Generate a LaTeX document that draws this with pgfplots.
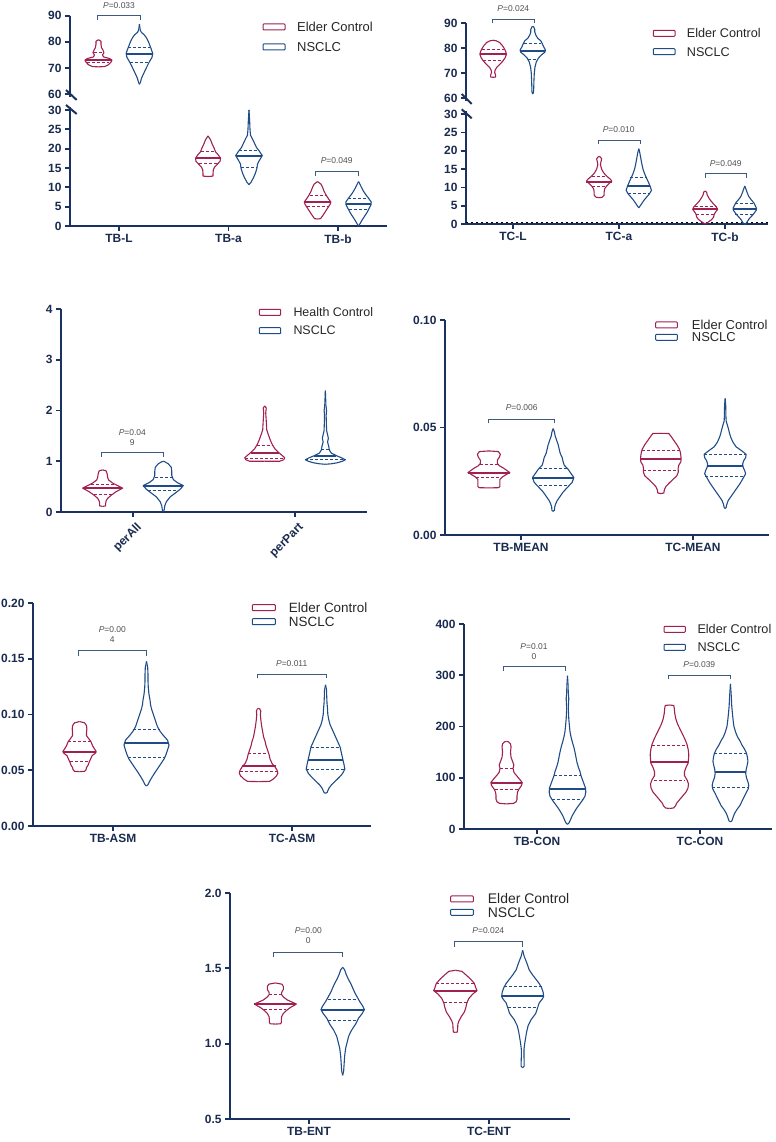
\documentclass[border=0pt]{standalone}
\usepackage{pgfplots}
\pgfplotsset{compat=1.18}
\usepackage{pgfplotstable}
\usepackage{fontspec}
\setmainfont{Liberation Sans}
\definecolor{elder}{HTML}{A02052}
\definecolor{nsclc}{HTML}{1F4C87}
\definecolor{axiscol}{HTML}{1B3260}
\definecolor{lblcol}{HTML}{1A2B50}
\definecolor{pcol}{HTML}{505050}
\definecolor{brcol}{HTML}{3E5A80}

\pgfplotsset{
 base/.style={scale only axis, anchor=south west, clip=false,
  axis y line=left, axis x line=bottom,
  axis line style={-, draw=axiscol, line width=2bp},
  tick align=outside, major tick length=5bp,
  tick style={draw=axiscol, line width=1.8bp},
  tick label style={font=\fontsize{12}{13}\selectfont\bfseries, text=lblcol},
  /pgf/number format/assume math mode=true,
  scaled ticks=false, minor tick num=0},
 vio/.style={line width=1.1bp, no marks, forget plot, line join=round},
}
\newcommand{\violin}[3]{%
 \addplot[#2, vio] table[x expr={#1+\thisrow{w}/\pxu}, y=y]{#3};
 \addplot[#2, vio] table[x expr={#1-\thisrow{w}/\pxu}, y=y]{#3};}
\newcommand{\stats}[8]{%
 \addplot[#2, line width=2bp, forget plot] table[x expr={#1+\thisrow{s}*#4/\pxu}, y expr={#3}]{\pmtab};
 \addplot[#2, line width=0.9bp, dash pattern=on 3bp off 2bp, forget plot] table[x expr={#1+\thisrow{s}*#6/\pxu}, y expr={#5}]{\pmtab};
 \addplot[#2, line width=0.9bp, dash pattern=on 3bp off 2bp, forget plot] table[x expr={#1+\thisrow{s}*#8/\pxu}, y expr={#7}]{\pmtab};}
\newcommand{\brk}[4]{\draw[brcol, line width=0.9bp] (#1,#4) -- (#1,#3) -- (#2,#3) -- (#2,#4);}
\newcommand{\pv}[3]{\node[pcol, inner sep=0pt, font=\fontsize{8.5}{9.8}\selectfont, align=center] at (#1,#2) {#3};}
\newcommand{\mylegend}[7]{%
 \draw[elder, line width=1bp, fill=white, rounded corners=0.8bp] (#1,#3-3) rectangle (#2,#3+3);
 \draw[nsclc, line width=1bp, fill=white, rounded corners=0.8bp] (#1,#4-3) rectangle (#2,#4+3);
 \node[anchor=west, inner sep=0pt, text=black!85, font=\fontsize{#6}{#6}\selectfont] at (#5,#3) {#7};
 \node[anchor=west, inner sep=0pt, text=black!85, font=\fontsize{#6}{#6}\selectfont] at (#5,#4) {NSCLC};}

\pgfplotstableread{
s z
-1 0
1 0
}\pmtab

% ---------- Panel 1 (TB colour) ----------
\pgfplotstableread{
y w
70.4 0
70.5 6
71.2 10
72.2 12.5
73.0 13.5
73.6 11
74.2 5
75.0 4
75.8 5.5
76.8 4.5
77.8 3
79.0 2.5
80.2 2.5
80.8 0
}\tTBLe
\pgfplotstableread{
y w
63.7 0
64.5 1
66.0 2
68.5 5
70.5 7.5
72.4 10
74.0 12.5
75.5 13.3
77.0 12
78.5 10.5
80.0 9
81.5 7
82.6 5
83.6 2
84.5 0.8
86.8 0
}\tTBLn
\pgfplotstableread{
y w
12.8 0
12.9 5
13.5 5
14.5 5.3
15.2 6.5
15.9 9
16.7 12
17.5 12.5
18.3 10.5
19.2 7.5
20.2 6
21.3 4
22.3 2.5
23.3 0
}\tTBae
\pgfplotstableread{
y w
10.7 0
11.3 2
12.5 4.5
13.7 6.5
15.0 8
16.0 8.5
17.0 10.5
18.2 13.3
19.3 10.5
20.3 7.5
21.4 5.5
22.5 3.5
23.5 1.5
25.0 1
27.0 0.7
30.0 0
}\tTBan
\pgfplotstableread{
y w
1.8 0
1.9 3
2.8 5.5
3.8 8
4.8 10.5
5.6 12.5
6.2 13.3
7.0 11
8.0 8.5
9.0 6.5
10.0 5
10.8 3.5
11.5 0
}\tTBbe
\pgfplotstableread{
y w
0.0 0
0.6 1.5
1.5 3.5
2.5 6
3.5 8.5
4.5 10.5
5.5 12.5
6.2 12.7
7.2 10
8.2 7
9.2 4.5
10.2 2.5
11.0 1
11.5 0
}\tTBbn
% ---------- Panel 2 (TC colour) ----------
\pgfplotstableread{
y w
68.4 0
68.5 2.5
69.3 2.5
70.3 1.5
71.3 2
72.3 3.5
73.5 6.5
74.8 9.5
76.2 12
77.6 13.3
78.8 12.5
80.0 11
81.2 9
82.3 6.5
83.0 3
83.2 0
}\tTCLe
\pgfplotstableread{
y w
61.7 0
62.5 0.8
65.0 1
67.5 1.2
70.0 1.5
72.5 2.2
74.5 3.5
76.0 5.5
77.3 8.5
78.4 12
79.3 12.7
80.5 11
81.8 9.5
83.0 8
84.0 5
85.3 3
86.5 2
87.5 2
88.5 1
88.8 0
}\tTCLn
\pgfplotstableread{
y w
7.2 0
7.3 3
7.9 5
8.8 5
9.6 5.5
10.4 7.5
11.2 10.5
11.7 12.7
12.3 11
13.1 7.5
14.0 4.5
15.0 2.5
16.2 1.3
17.0 1.8
17.8 2.5
18.3 1.2
18.5 0
}\tTCae
\pgfplotstableread{
y w
4.4 0
5.0 1.5
5.8 3.5
6.6 5.5
7.4 8
8.2 10.5
9.2 12.7
10.2 11.5
11.2 10
12.4 8
13.6 6
15.0 4.2
16.5 3
18.0 2
19.5 1
20.6 0
}\tTCan
\pgfplotstableread{
y w
0.0 0
0.5 3
1.2 6.5
1.9 8.5
2.6 9
3.3 10.5
4.0 12.5
4.8 11
5.6 8
6.4 5.5
7.2 3.5
8.0 2
8.7 1.5
9.0 0
}\tTCbe
\pgfplotstableread{
y w
-0.2 0
0.4 2
1.3 4
2.2 7
3.0 9.5
3.8 11.5
4.3 11.7
5.0 10.5
5.8 9
6.6 6.5
7.5 4
8.5 2.5
9.5 1.2
10.4 0
}\tTCbn
% ---------- Panel 3 ----------
\pgfplotstableread{
y w
0.11 0
0.12 3
0.17 3
0.22 3.5
0.27 5
0.33 8.5
0.40 13.5
0.47 20
0.52 15
0.57 10
0.63 6
0.68 5
0.75 4.5
0.81 3.5
0.83 0
}\tPAe
\pgfplotstableread{
y w
0.00 0
0.05 1
0.12 1.5
0.20 3
0.30 7
0.38 12.5
0.45 17
0.52 20
0.58 14
0.64 10
0.72 8.5
0.80 8.5
0.88 8
0.95 5
0.99 1.5
1.00 0
}\tPAn
\pgfplotstableread{
y w
1.00 0
1.00 15
1.03 19
1.07 20
1.12 17
1.18 13.5
1.25 10
1.33 7.5
1.42 5.5
1.53 3.5
1.62 2
1.70 1.8
1.80 1.5
1.95 1
2.05 1.5
2.09 0
}\tPPe
\pgfplotstableread{
y w
0.94 0
0.95 6
0.97 12
1.00 17
1.03 20
1.07 16
1.11 11
1.16 6
1.22 4
1.30 3.3
1.38 2.2
1.45 3
1.50 2.5
1.60 1.3
1.75 1
1.90 0.8
2.00 1.2
2.10 0.6
2.39 0
}\tPPn
% ---------- Panel 4 ----------
\pgfplotstableread{
y w
0.0219 0
0.0220 9.5
0.0225 11
0.0240 11
0.0258 11
0.0270 13.5
0.0283 18
0.0290 21
0.0300 18
0.0310 15
0.0322 10.5
0.0333 8.5
0.0348 8.5
0.0362 10.5
0.0375 11.5
0.0388 9.5
0.0391 0
}\tTBMe
\pgfplotstableread{
y w
0.0110 0
0.0115 1.3
0.0130 1.5
0.0145 2.5
0.0160 4
0.0180 7
0.0200 10
0.0225 15
0.0245 19
0.0267 20.7
0.0285 18
0.0305 15
0.0325 11
0.0340 10
0.0360 9
0.0380 7
0.0400 6
0.0420 5
0.0440 3.5
0.0460 2
0.0480 1.2
0.0495 0
}\tTBMn
\pgfplotstableread{
y w
0.0193 0
0.0195 3
0.0210 3.5
0.0225 5
0.0240 8
0.0258 12
0.0275 16
0.0293 17.5
0.0310 17.3
0.0325 18
0.0340 20
0.0355 20.3
0.0370 20
0.0385 19.5
0.0400 18.5
0.0420 16
0.0440 13
0.0460 10
0.0472 8
0.0473 0
}\tTCMe
\pgfplotstableread{
y w
0.0123 0
0.0128 1
0.0140 1.5
0.0160 3
0.0180 6
0.0200 9
0.0220 12
0.0240 15
0.0260 17.5
0.0285 20.5
0.0300 19.5
0.0315 18
0.0330 17.5
0.0345 18.5
0.0360 20.5
0.0375 21
0.0390 17
0.0410 11
0.0430 8
0.0450 6
0.0470 4.5
0.0490 3.5
0.0510 2.3
0.0530 1
0.0560 0.7
0.0600 0.6
0.0635 0
}\tTCMn
% ---------- Panel 5 ----------
\pgfplotstableread{
y w
0.0488 0
0.0490 5
0.0505 6.5
0.0525 7
0.0545 8.5
0.0570 9.5
0.0600 11
0.0630 12.5
0.0655 16
0.0668 16.7
0.0690 15
0.0720 13
0.0755 11.5
0.0785 9
0.0810 7
0.0840 7
0.0870 7.3
0.0900 7
0.0925 5
0.0937 0
}\tTBAe
\pgfplotstableread{
y w
0.0359 0
0.0370 1.5
0.0390 2.5
0.0415 4
0.0445 6
0.0480 8.5
0.0520 11.5
0.0560 14.5
0.0600 17.5
0.0640 19.5
0.0680 21
0.0725 22.5
0.0770 21
0.0810 17
0.0850 13.5
0.0890 11
0.0930 9.5
0.0970 8
0.1010 6.5
0.1050 5
0.1090 4
0.1130 3.5
0.1180 2.5
0.1240 1.8
0.1300 1.5
0.1360 1.5
0.1420 1.2
0.1476 0
}\tTBAn
\pgfplotstableread{
y w
0.0398 0
0.0400 11
0.0420 14.5
0.0450 18
0.0475 19.3
0.0500 18.5
0.0530 16.5
0.0560 13.5
0.0600 11.5
0.0640 10.5
0.0680 9
0.0720 7.5
0.0760 6.5
0.0800 5
0.0850 4
0.0900 3
0.0950 2.3
0.1000 1.8
0.1030 2.2
0.1050 1.2
0.1055 0
}\tTCAe
\pgfplotstableread{
y w
0.0293 0
0.0300 1.5
0.0320 2.5
0.0340 3.5
0.0370 6
0.0400 9.5
0.0435 13.5
0.0470 17
0.0510 19.3
0.0550 18.5
0.0590 17.5
0.0630 16.5
0.0670 15.5
0.0710 14.5
0.0750 12.5
0.0790 10.5
0.0830 8.5
0.0870 6.5
0.0910 4.5
0.0950 3.3
0.1000 2.3
0.1050 2
0.1100 1.5
0.1160 1.2
0.1220 1
0.1266 0
}\tTCAn
% ---------- Panel 6 ----------
\pgfplotstableread{
y w
49 0
50 7
53 9.5
58 10.5
65 10.5
72 11
78 12.5
85 15
90.6 15.7
96 13.5
103 10.5
110 7.5
118 6.5
125 7.3
132 6
140 4.5
150 4
160 4.5
166 4
170 2
171 0
}\tTBCe
\pgfplotstableread{
y w
9 0
12 1.5
18 3
25 4.5
32 6.5
40 9
48 12
56 15
64 17.5
72 18.3
80 18
88 16.5
96 15
104 13.5
112 12.5
120 11
130 9.5
140 8.5
150 7.5
160 6.3
170 4.8
180 3.5
190 2.5
200 2
215 1.3
235 0.8
255 1.3
265 0.8
280 0.6
299 0
}\tTBCn
\pgfplotstableread{
y w
40 0
41 4
45 6
50 7
57 10
64 13
72 16.5
80 18.5
88 19
96 17.5
104 15
112 15
120 16.5
128 18.5
136 19
145 19.3
155 18.7
165 17.5
175 15.5
185 13
195 10.5
205 8
215 6.3
225 5.3
235 4.8
241 4.3
242 0
}\tTCCe
\pgfplotstableread{
y w
14 0
16 1.5
22 2.5
30 4
38 6.5
46 9.5
54 11.5
62 13.5
70 15.5
78 17.7
85 18.3
92 17.5
100 16
108 15.3
116 15.7
124 16.7
132 17.5
140 17
148 16
156 14
164 11.5
172 9.5
180 7
190 5
200 3.5
210 2.8
225 2
240 1.3
260 0.8
283 0
}\tTCCn
% ---------- Panel 7 ----------
\pgfplotstableread{
y w
1.130 0
1.132 5
1.140 6
1.160 6
1.180 6.3
1.200 8
1.220 11
1.240 15
1.255 19
1.263 21
1.275 17
1.290 12
1.310 8
1.325 6.3
1.340 6.3
1.360 8
1.380 8
1.395 6.5
1.403 0
}\tTBEe
\pgfplotstableread{
y w
0.790 0
0.820 1
0.870 1.5
0.920 2
0.970 3
1.010 4.5
1.050 6
1.090 9
1.130 13
1.170 16
1.200 19.5
1.226 21.7
1.250 20
1.280 17
1.310 14.5
1.340 12
1.370 10
1.400 8
1.430 5.5
1.460 3.5
1.490 2
1.507 0
}\tTBEn
\pgfplotstableread{
y w
1.075 0
1.077 2
1.100 2.3
1.130 2.5
1.150 3.5
1.180 6
1.210 9
1.240 10.5
1.270 11.5
1.300 13.5
1.330 17.5
1.352 21.7
1.370 20.5
1.400 19
1.430 15
1.460 10
1.480 6.5
1.487 0
}\tTCEe
\pgfplotstableread{
y w
0.840 0
0.850 1.5
0.880 1.5
0.920 1.3
0.960 1.3
1.000 2
1.040 3
1.080 4
1.120 5.5
1.160 8.5
1.200 13
1.240 15
1.270 16.5
1.300 20
1.314 21
1.340 20.5
1.370 19
1.400 16.5
1.430 13
1.460 9.5
1.490 6.5
1.520 5
1.550 3.3
1.580 1.5
1.620 0
}\tTCEn

\begin{document}
\begin{tikzpicture}
\useasboundingbox (0,0) rectangle (776bp,1142bp);

% ===== Panel 1 top =====
\def\pxu{109.5}
\begin{axis}[base, at={(70bp,1048bp)}, width=317bp, height=78.3bp,
  xmin=-0.447, xmax=2.447, ymin=60, ymax=90, ytick={60,70,80,90},
  axis x line=none, xtick=\empty]
 \violin{-0.187}{elder}{\tTBLe}
 \stats{-0.187}{elder}{73.0}{13.3}{76.0}{4.5}{72.1}{11}
 \violin{0.187}{nsclc}{\tTBLn}
 \stats{0.187}{nsclc}{75.3}{13.3}{77.7}{11.5}{72.2}{9.5}
\end{axis}
% ===== Panel 1 bottom =====
\begin{axis}[base, at={(70bp,916bp)}, width=317bp, height=116bp,
  xmin=-0.447, xmax=2.447, ymin=0, ymax=30, ytick={0,5,...,30},
  xtick={0,1,2}, xticklabels={TB-L,TB-a,TB-b}]
 \violin{0.813}{elder}{\tTBae}
 \stats{0.813}{elder}{17.5}{12.5}{19.3}{7}{16.1}{9}
 \violin{1.187}{nsclc}{\tTBan}
 \stats{1.187}{nsclc}{18.2}{13.3}{19.5}{10}{15.2}{8}
 \violin{1.813}{elder}{\tTBbe}
 \stats{1.813}{elder}{6.2}{13.3}{7.8}{8}{5.0}{11}
 \violin{2.187}{nsclc}{\tTBbn}
 \stats{2.187}{nsclc}{5.8}{12.7}{7.0}{10.5}{4.2}{9.5}
\end{axis}

% ===== Panel 2 top =====
\def\pxu{106}
\begin{axis}[base, at={(466bp,1043.7bp)}, width=302bp, height=75bp,
  xmin=-0.443, xmax=2.406, ymin=60, ymax=90, ytick={60,70,80,90},
  axis x line=none, xtick=\empty]
 \violin{-0.187}{elder}{\tTCLe}
 \stats{-0.187}{elder}{77.6}{13.3}{79.6}{11.5}{75.2}{10.5}
 \violin{0.187}{nsclc}{\tTCLn}
 \stats{0.187}{nsclc}{79.1}{12.7}{82.0}{8.5}{75.7}{4.7}
\end{axis}
% ===== Panel 2 bottom =====
\begin{axis}[base, at={(466bp,918bp)}, width=302bp, height=109.7bp,
  xmin=-0.443, xmax=2.406, ymin=0, ymax=30, ytick={0,5,...,30},
  xtick={0,1,2}, xticklabels={TC-L,TC-a,TC-b}]
 \addplot[black, line width=1.4bp, dash pattern=on 1.4bp off 3.6bp, forget plot] coordinates {(-0.44,0.35) (2.406,0.35)};
 \violin{0.813}{elder}{\tTCae}
 \stats{0.813}{elder}{11.6}{12.7}{13.1}{7.5}{10.4}{7.5}
 \violin{1.187}{nsclc}{\tTCan}
 \stats{1.187}{nsclc}{10.4}{11.5}{12.7}{8.3}{8.4}{11}
 \violin{1.813}{elder}{\tTCbe}
 \stats{1.813}{elder}{4.0}{12.5}{4.9}{10.5}{2.5}{9}
 \violin{2.187}{nsclc}{\tTCbn}
 \stats{2.187}{nsclc}{4.2}{11.7}{5.6}{9.5}{2.7}{9.5}
\end{axis}

% ===== Panel 3 =====
\def\pxu{162}
\begin{axis}[base, at={(61bp,630bp)}, width=306bp, height=203bp,
  xmin=-0.444, xmax=1.444, ymin=0, ymax=4, ytick={0,1,2,3,4},
  xtick={0,1}, xticklabels={perAll,perPart},
  xticklabel style={rotate=45, anchor=east, xshift=2bp, yshift=-11bp}]
 \violin{-0.187}{elder}{\tPAe}
 \stats{-0.187}{elder}{0.47}{19}{0.55}{12}{0.35}{9}
 \violin{0.187}{nsclc}{\tPAn}
 \stats{0.187}{nsclc}{0.52}{20}{0.69}{8.5}{0.43}{15.5}
 \violin{0.813}{elder}{\tPPe}
 \stats{0.813}{elder}{1.16}{14}{1.31}{8}{1.05}{19.5}
 \violin{1.187}{nsclc}{\tPPn}
 \stats{1.187}{nsclc}{1.11}{11}{1.24}{4}{1.03}{20}
\end{axis}

% ===== Panel 4 =====
\def\pxu{172}
\begin{axis}[base, at={(445bp,607bp)}, width=324bp, height=215bp,
  xmin=-0.442, xmax=1.442, ymin=0, ymax=0.1, ytick={0,0.05,0.1},
  yticklabel style={/pgf/number format/.cd, fixed, fixed zerofill, precision=2},
  xtick={0,1}, xticklabels={TB-MEAN,TC-MEAN}]
 \violin{-0.187}{elder}{\tTBMe}
 \stats{-0.187}{elder}{0.0290}{21}{0.0329}{9}{0.0267}{13}
 \violin{0.187}{nsclc}{\tTBMn}
 \stats{0.187}{nsclc}{0.0267}{20.7}{0.0311}{14.5}{0.0231}{14}
 \violin{0.813}{elder}{\tTCMe}
 \stats{0.813}{elder}{0.0352}{20.3}{0.0394}{19}{0.0298}{17.5}
 \violin{1.187}{nsclc}{\tTCMn}
 \stats{1.187}{nsclc}{0.0323}{18}{0.0374}{21}{0.0273}{20}
\end{axis}

% ===== Panel 5 =====
\def\pxu{179}
\begin{axis}[base, at={(33bp,316bp)}, width=338bp, height=223bp,
  xmin=-0.447, xmax=1.441, ymin=0, ymax=0.2, ytick={0,0.05,0.1,0.15,0.2},
  yticklabel style={/pgf/number format/.cd, fixed, fixed zerofill, precision=2},
  xtick={0,1}, xticklabels={TB-ASM,TC-ASM}]
 \violin{-0.187}{elder}{\tTBAe}
 \stats{-0.187}{elder}{0.0668}{16.7}{0.0754}{11.5}{0.0575}{9.5}
 \violin{0.187}{nsclc}{\tTBAn}
 \stats{0.187}{nsclc}{0.0743}{22.3}{0.0862}{13.5}{0.0617}{18.5}
 \violin{0.813}{elder}{\tTCAe}
 \stats{0.813}{elder}{0.0539}{17}{0.0653}{10.5}{0.0485}{19}
 \violin{1.187}{nsclc}{\tTCAn}
 \stats{1.187}{nsclc}{0.0593}{17.5}{0.0707}{15}{0.0509}{19.3}
\end{axis}

% ===== Panel 6 =====
\def\pxu{163}
\begin{axis}[base, at={(464bp,313bp)}, width=308bp, height=205bp,
  xmin=-0.448, xmax=1.442, ymin=0, ymax=400, ytick={0,100,200,300,400},
  xtick={0,1}, xticklabels={TB-CON,TC-CON}]
 \violin{-0.187}{elder}{\tTBCe}
 \stats{-0.187}{elder}{90.6}{15.7}{118.6}{6.7}{76.2}{12}
 \violin{0.187}{nsclc}{\tTBCn}
 \stats{0.187}{nsclc}{77.5}{18.2}{103.6}{13.5}{58}{15.5}
 \violin{0.813}{elder}{\tTCCe}
 \stats{0.813}{elder}{131}{19.2}{162.2}{17.5}{93.8}{15.5}
 \violin{1.187}{nsclc}{\tTCCn}
 \stats{1.187}{nsclc}{111.4}{15.5}{147.9}{16.3}{80.8}{18}
\end{axis}

% ===== Panel 7 =====
\def\pxu{180}
\begin{axis}[base, at={(230bp,23bp)}, width=340bp, height=226bp,
  xmin=-0.439, xmax=1.45, ymin=0.5, ymax=2, ytick={0.5,1,1.5,2},
  yticklabel style={/pgf/number format/.cd, fixed, fixed zerofill, precision=1},
  xtick={0,1}, xticklabels={TB-ENT,TC-ENT}]
 \violin{-0.187}{elder}{\tTBEe}
 \stats{-0.187}{elder}{1.263}{21}{1.325}{6.3}{1.226}{11}
 \violin{0.187}{nsclc}{\tTBEn}
 \stats{0.187}{nsclc}{1.226}{21.7}{1.296}{15}{1.155}{14.5}
 \violin{0.813}{elder}{\tTCEe}
 \stats{0.813}{elder}{1.352}{21.7}{1.398}{19}{1.274}{11.5}
 \violin{1.187}{nsclc}{\tTCEn}
 \stats{1.187}{nsclc}{1.314}{21}{1.381}{19}{1.243}{15}
\end{axis}

% ===== annotations in picture pixels =====
\begin{scope}[shift={(0,1142bp)}, x=1bp, y=-1bp]
 % axis breaks
 \draw[axiscol, line width=2bp] (70,94) -- (70,97);
 \draw[axiscol, line width=2bp] (70,107) -- (70,110);
 \draw[axiscol, line width=2bp] (66,90) -- (76.7,100);
 \draw[axiscol, line width=2bp] (66,105) -- (76.7,114);
 \draw[axiscol, line width=2bp] (466,98) -- (466,101);
 \draw[axiscol, line width=2bp] (466,111) -- (466,114);
 \draw[axiscol, line width=2bp] (461.7,94) -- (471.7,104);
 \draw[axiscol, line width=2bp] (461.7,109.3) -- (471.7,118.3);
 % brackets and P values
 \brk{97.7}{140}{15.7}{20}   \pv{119}{5.5}{\textit{P}=0.033}
 \brk{315.7}{358.3}{171.7}{176} \pv{336.7}{161}{\textit{P}=0.049}
 \brk{492.7}{534}{19.3}{23.3} \pv{513.3}{8.5}{\textit{P}=0.024}
 \brk{598.3}{640}{140}{144.3} \pv{618.7}{129.5}{\textit{P}=0.010}
 \brk{705}{746.7}{173.3}{177.7} \pv{725.7}{163.5}{\textit{P}=0.049}
 \brk{101.7}{163.3}{452.3}{456.7} \pv{132.3}{437.5}{\textit{P}=0.04\\9}
 \brk{488.3}{554.3}{419}{423.3} \pv{521.7}{407.5}{\textit{P}=0.006}
 \brk{78.3}{146.7}{650.7}{655.7} \pv{112.3}{634.5}{\textit{P}=0.00\\4}
 \brk{257.3}{326}{674}{678.3} \pv{291.7}{663.5}{\textit{P}=0.011}
 \brk{503.3}{565.7}{666.7}{671} \pv{534}{651.5}{\textit{P}=0.01\\0}
 \brk{668.7}{730.7}{675}{679.3} \pv{699.3}{664.5}{\textit{P}=0.039}
 \brk{273.3}{342.7}{952.7}{957.3} \pv{308.3}{935.3}{\textit{P}=0.00\\0}
 \brk{454}{522.7}{941.7}{946.7} \pv{488.3}{930.3}{\textit{P}=0.024}
 % legends
 \mylegend{263}{285}{27}{47}{297}{13}{Elder Control}
 \mylegend{653.3}{675}{33.3}{51.7}{686.7}{12.7}{Elder Control}
 \mylegend{259.3}{280.7}{312.3}{330.7}{293.3}{12.5}{Health Control}
 \mylegend{655.7}{677.3}{325}{337.3}{691.7}{13}{Elder Control}
 \mylegend{252.3}{275.3}{607.7}{621.7}{288.7}{13.5}{Elder Control}
 \mylegend{664}{685.3}{629.3}{647.3}{697.3}{12.7}{Elder Control}
 \mylegend{450.7}{473.3}{899}{912.3}{487.7}{14}{Elder Control}
\end{scope}
\end{tikzpicture}
\end{document}
